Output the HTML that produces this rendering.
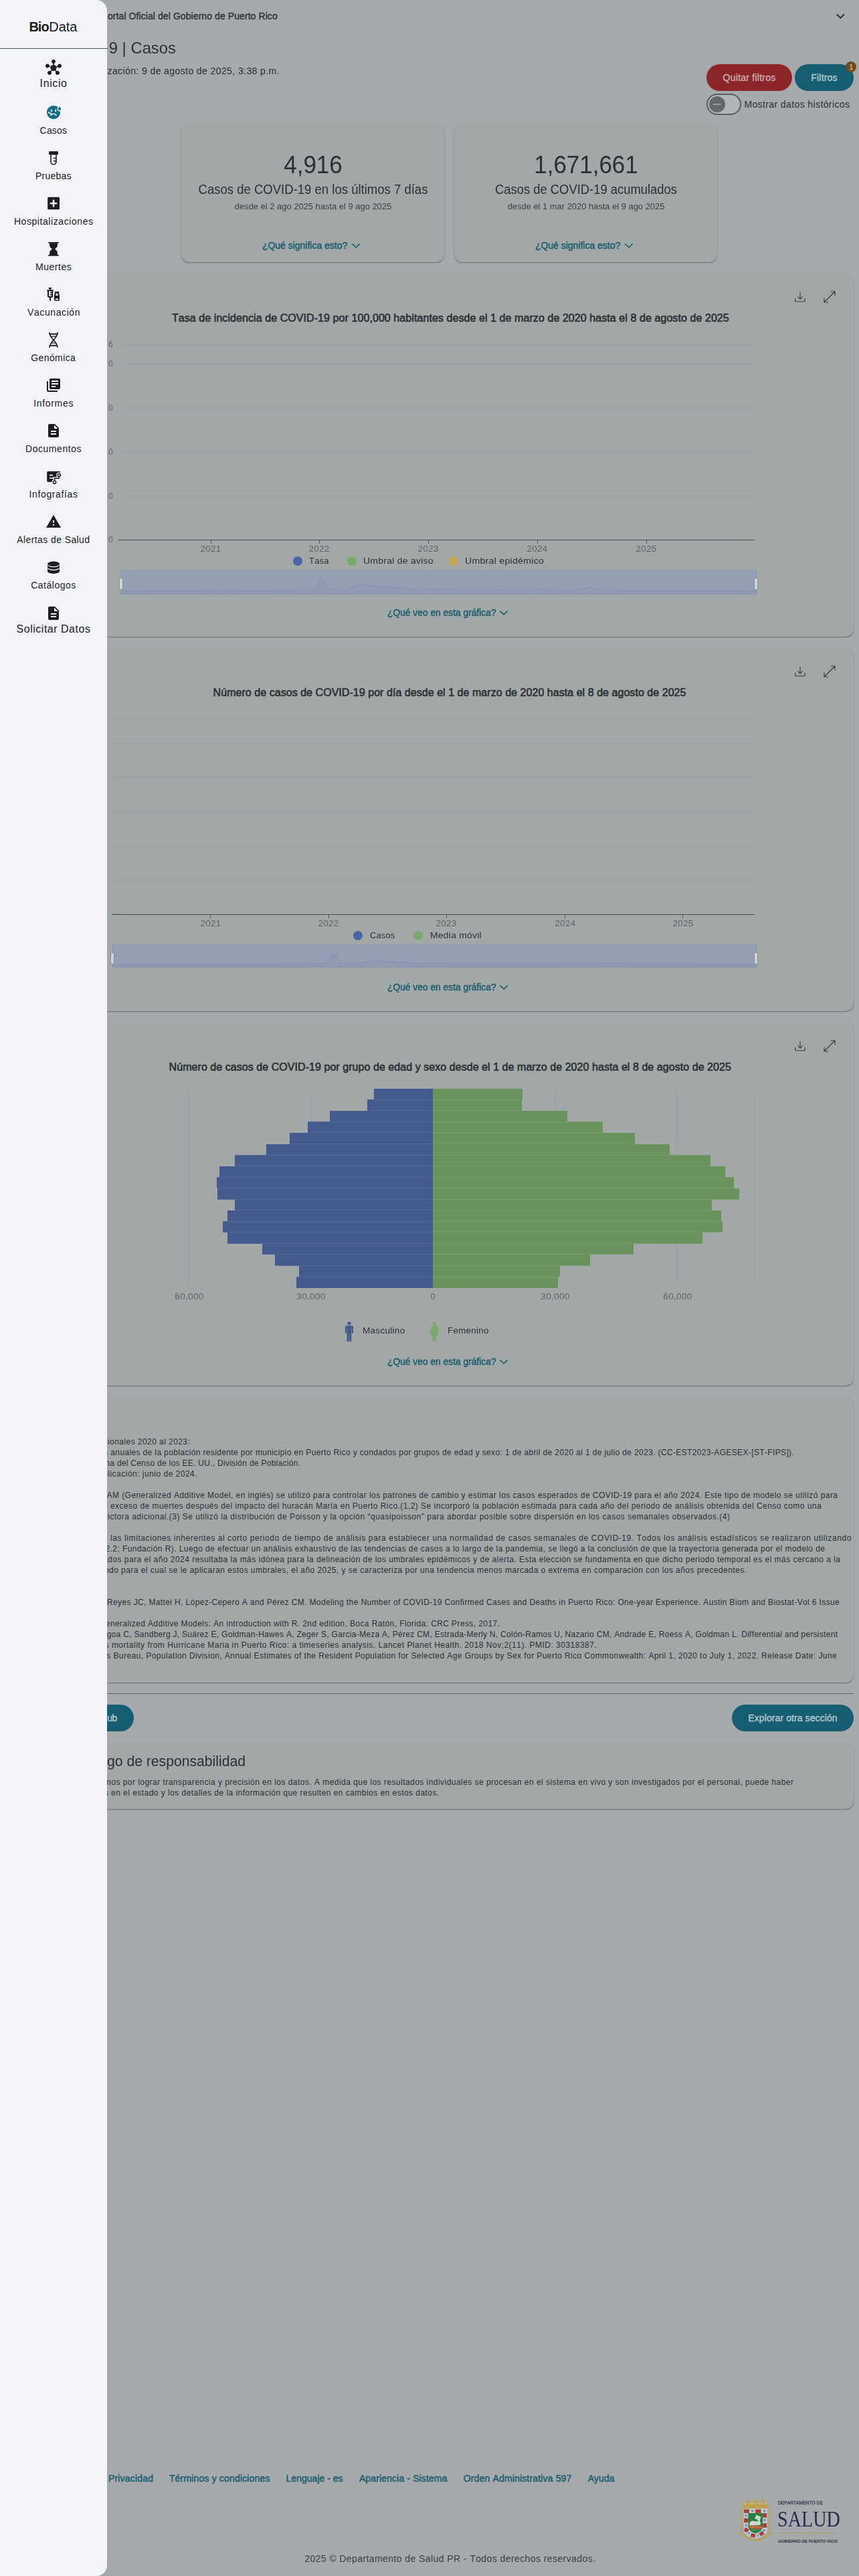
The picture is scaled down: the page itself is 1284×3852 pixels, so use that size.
<!DOCTYPE html>
<html lang="es"><head><meta charset="utf-8"><title>BioData - COVID-19 | Casos</title>
<style>
html,body{margin:0;padding:0}
body{width:1284px;height:3852px;position:relative;overflow:hidden;background:#a6aaad;font-family:"Liberation Sans",sans-serif;font-kerning:none;-webkit-font-smoothing:antialiased}
.t{position:absolute;white-space:nowrap;margin:0;padding:0}
.b{position:absolute;box-sizing:border-box}
svg{position:absolute;overflow:visible}
.card{box-shadow:0 1.5px 1.5px -0.5px rgba(0,0,0,.30),0 1px 3px 0 rgba(0,0,0,.07)}
</style></head><body>
<span class="t " style="top:14.85px;font-size:14px;line-height:18px;color:#2b3033;letter-spacing:0.078px;-webkit-text-stroke:0.35px #2b3033;right:869.22px;text-align:right;">ortal Oficial del Gobierno de Puerto Rico</span>
<span class="t " style="top:55.98px;font-size:24px;line-height:31px;color:#2b3033;letter-spacing:0.000px;right:1021.00px;text-align:right;transform:scaleX(0.9926);transform-origin:right center;">9 | Casos</span>
<span class="t " style="top:97.45px;font-size:14px;line-height:18px;color:#2b3033;letter-spacing:0.404px;right:866.10px;text-align:right;">zación: 9 de agosto de 2025, 3:38 p.m.</span>
<svg style="left:1248px;top:16px" width="16" height="16" viewBox="0 0 16 16"><path d="M2.6 5.2 L8.3 10.8 L14 5.2" fill="none" stroke="#2f3437" stroke-width="2"/></svg>
<div class="b" style="left:1056px;top:96px;width:127.5px;height:40px;background:#8b2529;border-radius:20px;"></div>
<span class="t " style="top:107.15px;font-size:14px;line-height:18px;color:#cfaeaf;letter-spacing:0.249px;-webkit-text-stroke:0.35px #cfaeaf;left:1080.60px;">Quitar filtros</span>
<div class="b" style="left:1188.3px;top:96px;width:87.5px;height:40px;background:#155d71;border-radius:20px;"></div>
<span class="t " style="top:107.15px;font-size:14px;line-height:18px;color:#b7cbd0;letter-spacing:0.198px;-webkit-text-stroke:0.35px #b7cbd0;left:1212.30px;">Filtros</span>
<div class="b" style="left:1264.2px;top:91.9px;width:16px;height:16px;background:#6d4b17;border-radius:8px;"></div>
<span class="t " style="top:92.79px;font-size:11px;line-height:14px;color:#c2b598;letter-spacing:0.000px;-webkit-text-stroke:0.35px #c2b598;left:272.30px;width:2000px;text-align:center;">1</span>
<div class="b" style="left:1056.2px;top:140.2px;width:51.6px;height:31.6px;background:#b0b5b8;border-radius:16px;border:2px solid #585e61;"></div>
<div class="b" style="left:1059.7px;top:144px;width:24px;height:24px;background:#62686b;border-radius:12px;"></div>
<div class="b" style="left:1066px;top:155.4px;width:11.4px;height:1.3px;background:#979da0;border-radius:0px;"></div>
<span class="t " style="top:146.75px;font-size:14px;line-height:18px;color:#2b3033;letter-spacing:0.391px;left:1112.40px;">Mostrar datos históricos</span>
<div class="b card" style="left:271.3px;top:184px;width:393px;height:208px;background:#a2a8a7;border-radius:12px"></div>
<span class="t " style="top:223.03px;font-size:36px;line-height:47px;color:#2b3033;letter-spacing:0.000px;left:-532.00px;width:2000px;text-align:center;transform:scaleX(0.9724);transform-origin:center center;">4,916</span>
<span class="t " style="top:269.67px;font-size:20px;line-height:26px;color:#2b3033;letter-spacing:0.000px;left:-532.00px;width:2000px;text-align:center;transform:scaleX(0.9261);transform-origin:center center;">Casos de COVID-19 en los últimos 7 días</span>
<span class="t " style="top:300.10px;font-size:13px;line-height:17px;color:#3a3f42;letter-spacing:0.000px;left:-532.00px;width:2000px;text-align:center;transform:scaleX(0.9947);transform-origin:center center;">desde el 2 ago 2025 hasta el 9 ago 2025</span>
<span class="t " style="top:357.95px;font-size:14px;line-height:18px;color:#1d5e6f;letter-spacing:-0.012px;-webkit-text-stroke:0.5px #1d5e6f;left:391.90px;">¿Qué significa esto?</span>
<svg style="left:525.2px;top:361.2px" width="14" height="12" viewBox="0 0 14 12"><path d="M1.4 3.6 L7 9 L12.6 3.6" fill="none" stroke="#1d5e6f" stroke-width="1.6"/></svg>
<div class="b card" style="left:679.4px;top:184px;width:393px;height:208px;background:#a2a8a7;border-radius:12px"></div>
<span class="t " style="top:223.03px;font-size:36px;line-height:47px;color:#2b3033;letter-spacing:0.000px;left:-124.00px;width:2000px;text-align:center;transform:scaleX(0.9709);transform-origin:center center;">1,671,661</span>
<span class="t " style="top:269.67px;font-size:20px;line-height:26px;color:#2b3033;letter-spacing:0.000px;left:-124.00px;width:2000px;text-align:center;transform:scaleX(0.9199);transform-origin:center center;">Casos de COVID-19 acumulados</span>
<span class="t " style="top:300.10px;font-size:13px;line-height:17px;color:#3a3f42;letter-spacing:0.000px;left:-124.00px;width:2000px;text-align:center;transform:scaleX(0.9930);transform-origin:center center;">desde el 1 mar 2020 hasta el 9 ago 2025</span>
<span class="t " style="top:357.95px;font-size:14px;line-height:18px;color:#1d5e6f;letter-spacing:-0.012px;-webkit-text-stroke:0.5px #1d5e6f;left:799.90px;">¿Qué significa esto?</span>
<svg style="left:933.2px;top:361.2px" width="14" height="12" viewBox="0 0 14 12"><path d="M1.4 3.6 L7 9 L12.6 3.6" fill="none" stroke="#1d5e6f" stroke-width="1.6"/></svg>
<div class="b card" style="left:68px;top:408px;width:1208px;height:544px;background:#a2a8a7;border-radius:12px"></div>
<svg style="left:1188px;top:435.5px" width="16" height="16" viewBox="0 0 16 16" fill="none" stroke="#363b3e" stroke-width="1.15" stroke-linecap="round" stroke-linejoin="round"><path d="M0.8 10.3v3.1c0 .9.7 1.6 1.6 1.6h11.2c.9 0 1.6-.7 1.6-1.6v-3.1"/><path d="M8 1.2v10M4.6 7.9 8 11.3l3.4-3.4"/></svg>
<svg style="left:1231px;top:434.5px" width="18" height="18" viewBox="0 0 18 18" fill="none" stroke="#363b3e" stroke-width="1.2" stroke-linecap="round" stroke-linejoin="round"><path d="M1 17 17 1M11.3 1H17v5.7M1 11.3V17h5.7"/></svg>
<span class="t " style="top:906.95px;font-size:14px;line-height:18px;color:#1d5e6f;letter-spacing:0.000px;-webkit-text-stroke:0.5px #1d5e6f;left:578.50px;transform:scaleX(0.9855);transform-origin:left center;">¿Qué veo en esta gráfica?</span>
<svg style="left:746.2px;top:909.6px" width="14" height="12" viewBox="0 0 14 12"><path d="M1.4 3.6 L7 9 L12.6 3.6" fill="none" stroke="#1d5e6f" stroke-width="1.6"/></svg>
<span class="t " style="top:465.46px;font-size:16px;line-height:21px;color:#2b3033;letter-spacing:0.076px;-webkit-text-stroke:0.6px #2b3033;left:256.90px;">Tasa de incidencia de COVID-19 por 100,000 habitantes desde el 1 de marzo de 2020 hasta el 8 de agosto de 2025</span>
<div class="b" style="left:180px;top:516.1px;width:947.6px;height:1px;background:#999fa2;border-radius:0px;"></div>
<div class="b" style="left:180px;top:543.7px;width:947.6px;height:1px;background:#999fa2;border-radius:0px;"></div>
<div class="b" style="left:180px;top:609.3px;width:947.6px;height:1px;background:#999fa2;border-radius:0px;"></div>
<div class="b" style="left:180px;top:675.6px;width:947.6px;height:1px;background:#999fa2;border-radius:0px;"></div>
<div class="b" style="left:180px;top:741.2px;width:947.6px;height:1px;background:#999fa2;border-radius:0px;"></div>
<div class="b" style="left:177.3px;top:806.7px;width:950.3px;height:1px;background:#4a4f52;border-radius:0px;"></div>
<span class="t " style="top:506.84px;font-size:12px;line-height:16px;color:#5d6265;letter-spacing:0.250px;right:1115.15px;text-align:right;transform:scaleX(1.0084);transform-origin:right center;">6</span>
<span class="t " style="top:536.44px;font-size:12px;line-height:16px;color:#5d6265;letter-spacing:0.250px;right:1115.15px;text-align:right;transform:scaleX(1.0084);transform-origin:right center;">0</span>
<span class="t " style="top:602.04px;font-size:12px;line-height:16px;color:#5d6265;letter-spacing:0.250px;right:1115.15px;text-align:right;transform:scaleX(1.0084);transform-origin:right center;">0</span>
<span class="t " style="top:668.34px;font-size:12px;line-height:16px;color:#5d6265;letter-spacing:0.250px;right:1115.15px;text-align:right;transform:scaleX(1.0084);transform-origin:right center;">0</span>
<span class="t " style="top:733.94px;font-size:12px;line-height:16px;color:#5d6265;letter-spacing:0.250px;right:1115.15px;text-align:right;transform:scaleX(1.0084);transform-origin:right center;">0</span>
<span class="t " style="top:799.44px;font-size:12px;line-height:16px;color:#5d6265;letter-spacing:0.250px;right:1115.15px;text-align:right;transform:scaleX(1.0084);transform-origin:right center;">0</span>
<div class="b" style="left:314.5px;top:807px;width:1px;height:5.5px;background:#4a4f52;border-radius:0px;"></div>
<span class="t " style="top:812.94px;font-size:12px;line-height:16px;color:#5d6265;letter-spacing:0.250px;left:-684.88px;width:2000px;text-align:center;transform:scaleX(1.1185);transform-origin:center center;">2021</span>
<div class="b" style="left:476.8px;top:807px;width:1px;height:5.5px;background:#4a4f52;border-radius:0px;"></div>
<span class="t " style="top:812.94px;font-size:12px;line-height:16px;color:#5d6265;letter-spacing:0.250px;left:-522.58px;width:2000px;text-align:center;transform:scaleX(1.1185);transform-origin:center center;">2022</span>
<div class="b" style="left:639.7px;top:807px;width:1px;height:5.5px;background:#4a4f52;border-radius:0px;"></div>
<span class="t " style="top:812.94px;font-size:12px;line-height:16px;color:#5d6265;letter-spacing:0.250px;left:-359.67px;width:2000px;text-align:center;transform:scaleX(1.1185);transform-origin:center center;">2023</span>
<div class="b" style="left:802.6px;top:807px;width:1px;height:5.5px;background:#4a4f52;border-radius:0px;"></div>
<span class="t " style="top:812.94px;font-size:12px;line-height:16px;color:#5d6265;letter-spacing:0.250px;left:-196.77px;width:2000px;text-align:center;transform:scaleX(1.1185);transform-origin:center center;">2024</span>
<div class="b" style="left:965.5px;top:807px;width:1px;height:5.5px;background:#4a4f52;border-radius:0px;"></div>
<span class="t " style="top:812.94px;font-size:12px;line-height:16px;color:#5d6265;letter-spacing:0.250px;left:-33.88px;width:2000px;text-align:center;transform:scaleX(1.1185);transform-origin:center center;">2025</span>
<div class="b" style="left:437.6px;top:831.5px;width:14px;height:14px;background:#4a64a4;border-radius:7px;"></div>
<span class="t " style="top:830.74px;font-size:12px;line-height:16px;color:#2b3033;letter-spacing:0.250px;left:462.30px;transform:scaleX(1.0767);transform-origin:left center;">Tasa</span>
<div class="b" style="left:518.7px;top:831.5px;width:14px;height:14px;background:#79a86b;border-radius:7px;"></div>
<span class="t " style="top:830.74px;font-size:12px;line-height:16px;color:#2b3033;letter-spacing:0.250px;left:543.40px;transform:scaleX(1.1596);transform-origin:left center;">Umbral de aviso</span>
<div class="b" style="left:671.2px;top:831.5px;width:14px;height:14px;background:#c9a55a;border-radius:7px;"></div>
<span class="t " style="top:830.74px;font-size:12px;line-height:16px;color:#2b3033;letter-spacing:0.250px;left:695.20px;transform:scaleX(1.1726);transform-origin:left center;">Umbral epidémico</span>
<div class="b" style="left:181px;top:852.3px;width:949.2px;height:36.30000000000007px;background:#959fb4;border-radius:0px;"></div>
<svg style="left:181px;top:852.3px" width="949.2" height="36.30000000000007" viewBox="0 0 949.2 36.30000000000007"><path d="M0 33.3 L0.0 31.7 L119.0 31.2 L149.0 30.7 L179.0 31.3 L259.0 30.9 L287.0 29.7 L293.0 21.7 L297.0 12.2 L302.0 17.7 L308.0 28.7 L319.0 30.7 L339.0 30.2 L353.0 22.7 L359.0 21.2 L371.0 23.7 L394.0 25.2 L419.0 27.7 L444.0 30.2 L469.0 28.7 L487.0 28.2 L509.0 30.2 L539.0 30.7 L579.0 30.5 L619.0 29.7 L631.0 28.5 L649.0 30.7 L679.0 30.9 L697.0 27.2 L703.0 26.3 L711.0 29.7 L749.0 31.2 L819.0 31.5 L879.0 31.2 L949.0 31.7 L949.2 33.3 L949.2 36 L0 36 Z" fill="#909ab1" stroke="#8390b3" stroke-width="0.9"/></svg>
<div class="b" style="left:180.5px;top:852.3px;width:1px;height:36.30000000000007px;background:#8390ae;border-radius:0px;"></div>
<div class="b" style="left:177.7px;top:863.8px;width:6.6px;height:18.5px;background:#cfd3d7;border-radius:2px;border:1px solid #8a9097;"></div>
<div class="b" style="left:1129.7px;top:852.3px;width:1px;height:36.30000000000007px;background:#8390ae;border-radius:0px;"></div>
<div class="b" style="left:1126.9px;top:863.8px;width:6.6px;height:18.5px;background:#cfd3d7;border-radius:2px;border:1px solid #8a9097;"></div>
<div class="b card" style="left:68px;top:968px;width:1208px;height:544px;background:#a2a8a7;border-radius:12px"></div>
<svg style="left:1188px;top:995.5px" width="16" height="16" viewBox="0 0 16 16" fill="none" stroke="#363b3e" stroke-width="1.15" stroke-linecap="round" stroke-linejoin="round"><path d="M0.8 10.3v3.1c0 .9.7 1.6 1.6 1.6h11.2c.9 0 1.6-.7 1.6-1.6v-3.1"/><path d="M8 1.2v10M4.6 7.9 8 11.3l3.4-3.4"/></svg>
<svg style="left:1231px;top:994.5px" width="18" height="18" viewBox="0 0 18 18" fill="none" stroke="#363b3e" stroke-width="1.2" stroke-linecap="round" stroke-linejoin="round"><path d="M1 17 17 1M11.3 1H17v5.7M1 11.3V17h5.7"/></svg>
<span class="t " style="top:1466.95px;font-size:14px;line-height:18px;color:#1d5e6f;letter-spacing:0.000px;-webkit-text-stroke:0.5px #1d5e6f;left:578.50px;transform:scaleX(0.9855);transform-origin:left center;">¿Qué veo en esta gráfica?</span>
<svg style="left:746.2px;top:1469.6px" width="14" height="12" viewBox="0 0 14 12"><path d="M1.4 3.6 L7 9 L12.6 3.6" fill="none" stroke="#1d5e6f" stroke-width="1.6"/></svg>
<span class="t " style="top:1025.46px;font-size:16px;line-height:21px;color:#2b3033;letter-spacing:0.046px;-webkit-text-stroke:0.6px #2b3033;left:318.60px;">Número de casos de COVID-19 por día desde el 1 de marzo de 2020 hasta el 8 de agosto de 2025</span>
<div class="b" style="left:169.3px;top:1075.4px;width:958.5px;height:1px;background:#999fa2;border-radius:0px;"></div>
<div class="b" style="left:169.3px;top:1110.7px;width:958.5px;height:1px;background:#999fa2;border-radius:0px;"></div>
<div class="b" style="left:169.3px;top:1162.4px;width:958.5px;height:1px;background:#999fa2;border-radius:0px;"></div>
<div class="b" style="left:169.3px;top:1213.7px;width:958.5px;height:1px;background:#999fa2;border-radius:0px;"></div>
<div class="b" style="left:169.3px;top:1265.1px;width:958.5px;height:1px;background:#999fa2;border-radius:0px;"></div>
<div class="b" style="left:169.3px;top:1316.3px;width:958.5px;height:1px;background:#999fa2;border-radius:0px;"></div>
<div class="b" style="left:166.5px;top:1366.6px;width:961.3px;height:1px;background:#4a4f52;border-radius:0px;"></div>
<div class="b" style="left:166.5px;top:1366px;width:11px;height:1.4px;background:#79a86b;border-radius:0px;"></div>
<div class="b" style="left:314.1px;top:1367px;width:1px;height:5.5px;background:#4a4f52;border-radius:0px;"></div>
<span class="t " style="top:1372.84px;font-size:12px;line-height:16px;color:#5d6265;letter-spacing:0.250px;left:-685.27px;width:2000px;text-align:center;transform:scaleX(1.1185);transform-origin:center center;">2021</span>
<div class="b" style="left:490.6px;top:1367px;width:1px;height:5.5px;background:#4a4f52;border-radius:0px;"></div>
<span class="t " style="top:1372.84px;font-size:12px;line-height:16px;color:#5d6265;letter-spacing:0.250px;left:-508.77px;width:2000px;text-align:center;transform:scaleX(1.1185);transform-origin:center center;">2022</span>
<div class="b" style="left:666.7px;top:1367px;width:1px;height:5.5px;background:#4a4f52;border-radius:0px;"></div>
<span class="t " style="top:1372.84px;font-size:12px;line-height:16px;color:#5d6265;letter-spacing:0.250px;left:-332.67px;width:2000px;text-align:center;transform:scaleX(1.1185);transform-origin:center center;">2023</span>
<div class="b" style="left:843.9px;top:1367px;width:1px;height:5.5px;background:#4a4f52;border-radius:0px;"></div>
<span class="t " style="top:1372.84px;font-size:12px;line-height:16px;color:#5d6265;letter-spacing:0.250px;left:-155.48px;width:2000px;text-align:center;transform:scaleX(1.1185);transform-origin:center center;">2024</span>
<div class="b" style="left:1020.4px;top:1367px;width:1px;height:5.5px;background:#4a4f52;border-radius:0px;"></div>
<span class="t " style="top:1372.84px;font-size:12px;line-height:16px;color:#5d6265;letter-spacing:0.250px;left:21.02px;width:2000px;text-align:center;transform:scaleX(1.1185);transform-origin:center center;">2025</span>
<div class="b" style="left:527.8px;top:1391.8px;width:14px;height:14px;background:#4a64a4;border-radius:7px;"></div>
<span class="t " style="top:1391.04px;font-size:12px;line-height:16px;color:#2b3033;letter-spacing:0.250px;left:553.00px;transform:scaleX(1.0624);transform-origin:left center;">Casos</span>
<div class="b" style="left:618px;top:1391.8px;width:14px;height:14px;background:#79a86b;border-radius:7px;"></div>
<span class="t " style="top:1391.04px;font-size:12px;line-height:16px;color:#2b3033;letter-spacing:0.250px;left:643.30px;transform:scaleX(1.1530);transform-origin:left center;">Media móvil</span>
<div class="b" style="left:168px;top:1412.3px;width:962.2px;height:34.5px;background:#959fb4;border-radius:0px;"></div>
<svg style="left:168px;top:1412.3px" width="962.2" height="34.5" viewBox="0 0 962.2 34.5"><path d="M0 31.5 L0.0 30.7 L132.0 30.3 L232.0 30.1 L272.0 29.7 L318.0 28.7 L324.0 21.7 L327.0 13.7 L329.0 20.7 L331.0 11.7 L333.0 19.7 L335.0 12.7 L338.0 23.7 L344.0 28.7 L362.0 29.7 L380.0 26.7 L385.0 23.7 L388.0 26.7 L391.0 23.2 L394.0 26.7 L398.0 23.7 L402.0 27.2 L408.0 24.7 L414.0 27.7 L422.0 25.7 L430.0 28.2 L438.0 26.7 L447.0 28.7 L457.0 27.7 L472.0 29.2 L487.0 28.2 L502.0 29.5 L532.0 29.7 L592.0 29.7 L672.0 29.3 L737.0 29.2 L750.0 27.2 L756.0 29.2 L822.0 29.7 L963.0 30.2 L962.2 31.5 L962.2 34 L0 34 Z" fill="#909ab1" stroke="#8390b3" stroke-width="0.9"/></svg>
<div class="b" style="left:167.5px;top:1412.3px;width:1px;height:34.5px;background:#8390ae;border-radius:0px;"></div>
<div class="b" style="left:164.7px;top:1423.8px;width:6.6px;height:18.5px;background:#cfd3d7;border-radius:2px;border:1px solid #8a9097;"></div>
<div class="b" style="left:1129.7px;top:1412.3px;width:1px;height:34.5px;background:#8390ae;border-radius:0px;"></div>
<div class="b" style="left:1126.9px;top:1423.8px;width:6.6px;height:18.5px;background:#cfd3d7;border-radius:2px;border:1px solid #8a9097;"></div>
<div class="b card" style="left:68px;top:1528px;width:1208px;height:544px;background:#a2a8a7;border-radius:12px"></div>
<svg style="left:1188px;top:1555.5px" width="16" height="16" viewBox="0 0 16 16" fill="none" stroke="#363b3e" stroke-width="1.15" stroke-linecap="round" stroke-linejoin="round"><path d="M0.8 10.3v3.1c0 .9.7 1.6 1.6 1.6h11.2c.9 0 1.6-.7 1.6-1.6v-3.1"/><path d="M8 1.2v10M4.6 7.9 8 11.3l3.4-3.4"/></svg>
<svg style="left:1231px;top:1554.5px" width="18" height="18" viewBox="0 0 18 18" fill="none" stroke="#363b3e" stroke-width="1.2" stroke-linecap="round" stroke-linejoin="round"><path d="M1 17 17 1M11.3 1H17v5.7M1 11.3V17h5.7"/></svg>
<span class="t " style="top:2026.95px;font-size:14px;line-height:18px;color:#1d5e6f;letter-spacing:0.000px;-webkit-text-stroke:0.5px #1d5e6f;left:578.50px;transform:scaleX(0.9855);transform-origin:left center;">¿Qué veo en esta gráfica?</span>
<svg style="left:746.2px;top:2029.6px" width="14" height="12" viewBox="0 0 14 12"><path d="M1.4 3.6 L7 9 L12.6 3.6" fill="none" stroke="#1d5e6f" stroke-width="1.6"/></svg>
<span class="t " style="top:1585.46px;font-size:16px;line-height:21px;color:#2b3033;letter-spacing:0.055px;-webkit-text-stroke:0.6px #2b3033;left:252.60px;">Número de casos de COVID-19 por grupo de edad y sexo desde el 1 de marzo de 2020 hasta el 8 de agosto de 2025</span>
<svg style="left:0;top:0" width="1284" height="2100" viewBox="0 0 1284 2100" shape-rendering="crispEdges"><rect x="282.3" y="1627.8" width="1" height="297.79999999999995" fill="#999fa2"/><rect x="464.5" y="1627.8" width="1" height="297.79999999999995" fill="#999fa2"/><rect x="829.1" y="1627.8" width="1" height="297.79999999999995" fill="#999fa2"/><rect x="1012.3" y="1627.8" width="1" height="297.79999999999995" fill="#999fa2"/><rect x="1126.5" y="1627.8" width="1" height="297.79999999999995" fill="#999fa2"/><rect x="559.2" y="1627.80" width="87.8" height="16.84" fill="#445a8f"/><rect x="647" y="1627.80" width="134.4" height="16.84" fill="#69925c"/><rect x="548.5" y="1644.34" width="98.5" height="16.84" fill="#445a8f"/><rect x="647" y="1644.34" width="132.8" height="16.84" fill="#69925c"/><rect x="492.8" y="1660.89" width="154.2" height="16.84" fill="#445a8f"/><rect x="647" y="1660.89" width="201.4" height="16.84" fill="#69925c"/><rect x="459.6" y="1677.43" width="187.4" height="16.84" fill="#445a8f"/><rect x="647" y="1677.43" width="253.8" height="16.84" fill="#69925c"/><rect x="432.8" y="1693.98" width="214.2" height="16.84" fill="#445a8f"/><rect x="647" y="1693.98" width="302.0" height="16.84" fill="#69925c"/><rect x="397.5" y="1710.52" width="249.5" height="16.84" fill="#445a8f"/><rect x="647" y="1710.52" width="354.0" height="16.84" fill="#69925c"/><rect x="350.9" y="1727.07" width="296.1" height="16.84" fill="#445a8f"/><rect x="647" y="1727.07" width="414.5" height="16.84" fill="#69925c"/><rect x="328.4" y="1743.61" width="318.6" height="16.84" fill="#445a8f"/><rect x="647" y="1743.61" width="437.0" height="16.84" fill="#69925c"/><rect x="323.6" y="1760.16" width="323.4" height="16.84" fill="#445a8f"/><rect x="647" y="1760.16" width="449.9" height="16.84" fill="#69925c"/><rect x="325.2" y="1776.70" width="321.8" height="16.84" fill="#445a8f"/><rect x="647" y="1776.70" width="457.7" height="16.84" fill="#69925c"/><rect x="350.9" y="1793.24" width="296.1" height="16.84" fill="#445a8f"/><rect x="647" y="1793.24" width="416.7" height="16.84" fill="#69925c"/><rect x="340.2" y="1809.79" width="306.8" height="16.84" fill="#445a8f"/><rect x="647" y="1809.79" width="430.6" height="16.84" fill="#69925c"/><rect x="333.2" y="1826.33" width="313.8" height="16.84" fill="#445a8f"/><rect x="647" y="1826.33" width="432.7" height="16.84" fill="#69925c"/><rect x="339.6" y="1842.88" width="307.4" height="16.84" fill="#445a8f"/><rect x="647" y="1842.88" width="403.3" height="16.84" fill="#69925c"/><rect x="391.6" y="1859.42" width="255.4" height="16.84" fill="#445a8f"/><rect x="647" y="1859.42" width="299.9" height="16.84" fill="#69925c"/><rect x="411.4" y="1875.97" width="235.6" height="16.84" fill="#445a8f"/><rect x="647" y="1875.97" width="235.1" height="16.84" fill="#69925c"/><rect x="446.7" y="1892.51" width="200.3" height="16.84" fill="#445a8f"/><rect x="647" y="1892.51" width="189.6" height="16.84" fill="#69925c"/><rect x="442.5" y="1909.06" width="204.5" height="16.84" fill="#445a8f"/><rect x="647" y="1909.06" width="186.9" height="16.84" fill="#69925c"/><rect x="548.5" y="1644" width="232.9" height="1" fill="#d0d6da" opacity="0.12"/><rect x="492.8" y="1660" width="355.6" height="1" fill="#d0d6da" opacity="0.12"/><rect x="459.6" y="1677" width="441.2" height="1" fill="#d0d6da" opacity="0.12"/><rect x="432.8" y="1693" width="516.2" height="1" fill="#d0d6da" opacity="0.12"/><rect x="397.5" y="1710" width="603.5" height="1" fill="#d0d6da" opacity="0.12"/><rect x="350.9" y="1727" width="710.6" height="1" fill="#d0d6da" opacity="0.12"/><rect x="328.4" y="1743" width="755.6" height="1" fill="#d0d6da" opacity="0.12"/><rect x="323.6" y="1760" width="773.3" height="1" fill="#d0d6da" opacity="0.12"/><rect x="323.6" y="1776" width="781.1" height="1" fill="#d0d6da" opacity="0.12"/><rect x="325.2" y="1793" width="779.5" height="1" fill="#d0d6da" opacity="0.12"/><rect x="340.2" y="1809" width="737.4" height="1" fill="#d0d6da" opacity="0.12"/><rect x="333.2" y="1826" width="746.5" height="1" fill="#d0d6da" opacity="0.12"/><rect x="333.2" y="1842" width="746.5" height="1" fill="#d0d6da" opacity="0.12"/><rect x="339.6" y="1859" width="710.7" height="1" fill="#d0d6da" opacity="0.12"/><rect x="391.6" y="1875" width="555.3" height="1" fill="#d0d6da" opacity="0.12"/><rect x="411.4" y="1892" width="470.7" height="1" fill="#d0d6da" opacity="0.12"/><rect x="442.5" y="1909" width="394.1" height="1" fill="#d0d6da" opacity="0.12"/></svg>
<span class="t " style="top:1930.84px;font-size:12px;line-height:16px;color:#5d6265;letter-spacing:0.250px;left:-717.08px;width:2000px;text-align:center;transform:scaleX(1.1329);transform-origin:center center;">60,000</span>
<span class="t " style="top:1930.84px;font-size:12px;line-height:16px;color:#5d6265;letter-spacing:0.250px;left:-534.88px;width:2000px;text-align:center;transform:scaleX(1.1329);transform-origin:center center;">30,000</span>
<span class="t " style="top:1930.84px;font-size:12px;line-height:16px;color:#5d6265;letter-spacing:0.250px;left:-352.88px;width:2000px;text-align:center;transform:scaleX(1.0084);transform-origin:center center;">0</span>
<span class="t " style="top:1930.84px;font-size:12px;line-height:16px;color:#5d6265;letter-spacing:0.250px;left:-170.27px;width:2000px;text-align:center;transform:scaleX(1.1329);transform-origin:center center;">30,000</span>
<span class="t " style="top:1930.84px;font-size:12px;line-height:16px;color:#5d6265;letter-spacing:0.250px;left:12.92px;width:2000px;text-align:center;transform:scaleX(1.1329);transform-origin:center center;">60,000</span>
<svg style="left:516px;top:1975.7px" width="12" height="30.3" viewBox="0 0 12 30"><circle cx="6" cy="2.6" r="2.6" fill="#445a8f"/><path d="M2.2 6h7.6c1.2 0 2.2 1 2.2 2.2v8.300c0 .6-.5 1.100-1.100 1.100s-1.100-.5-1.100-1.100V9.300H9.300V28.400c0 .9-.7 1.600-1.600 1.600S6.200 29.300 6.200 28.400V18H5.800v10.400c0 .9-.7 1.600-1.600 1.600s-1.600-.7-1.600-1.600V9.300H2.200v7.200c0 .6-.5 1.100-1.100 1.100S0 17.100 0 16.500V8.200C0 7 1 6 2.200 6z" fill="#445a8f"/></svg>
<span class="t " style="top:1981.94px;font-size:12px;line-height:16px;color:#2b3033;letter-spacing:0.250px;left:542.40px;transform:scaleX(1.1281);transform-origin:left center;">Masculino</span>
<svg style="left:642.3px;top:1975.7px" width="14.5" height="30.3" viewBox="0 0 14.5 30"><circle cx="7.25" cy="2.6" r="2.6" fill="#79a86b"/><path d="M4.600 6h5.300c1 0 1.800.6 2.100 1.600l2.400 8c.2.600-.1 1.200-.7 1.400-.6.200-1.200-.1-1.400-.7L10.200 9.500H9.800l3 11.500H10v7.500c0 .8-.6 1.500-1.400 1.500s-1.400-.7-1.400-1.500V21h-.4v7.500c0 .8-.6 1.500-1.400 1.500S4.500 29.300 4.500 28.500V21H1.700l3-11.500H4.300L2.200 16.300c-.2.600-.8.900-1.400.7-.6-.2-.9-.8-.7-1.400l2.400-8C2.800 6.600 3.600 6 4.600 6z" fill="#79a86b"/></svg>
<span class="t " style="top:1981.94px;font-size:12px;line-height:16px;color:#2b3033;letter-spacing:0.250px;left:669.20px;transform:scaleX(1.1141);transform-origin:left center;">Femenino</span>
<div class="b card" style="left:68px;top:2088px;width:1208px;height:428px;background:#a2a8a7;border-radius:12px"></div>
<span class="t " style="top:2148.14px;font-size:12px;line-height:16px;color:#2b3033;letter-spacing:0.435px;right:999.76px;text-align:right;">Estimados poblacionales 2020 al 2023:</span>
<span class="t " style="top:2164.14px;font-size:12px;line-height:16px;color:#2b3033;letter-spacing:0.362px;right:96.84px;text-align:right;">Estimados anuales de la población residente por municipio en Puerto Rico y condados por grupos de edad y sexo: 1 de abril de 2020 al 1 de julio de 2023. (CC-EST2023-AGESEX-[ST-FIPS]).</span>
<span class="t " style="top:2180.14px;font-size:12px;line-height:16px;color:#2b3033;letter-spacing:0.283px;right:834.72px;text-align:right;">Fuente: Oficina del Censo de los EE. UU., División de Población.</span>
<span class="t " style="top:2196.14px;font-size:12px;line-height:16px;color:#2b3033;letter-spacing:0.487px;right:988.91px;text-align:right;">Fecha de publicación: junio de 2024.</span>
<span class="t " style="top:2228.14px;font-size:12px;line-height:16px;color:#2b3033;letter-spacing:0.448px;right:31.55px;text-align:right;">El modelo GAM (Generalized Additive Model, en inglés) se utilizó para controlar los patrones de cambio y estimar los casos esperados de COVID-19 para el año 2024. Este tipo de modelo se utilizó para</span>
<span class="t " style="top:2244.14px;font-size:12px;line-height:16px;color:#2b3033;letter-spacing:0.459px;right:55.94px;text-align:right;">estimar el exceso de muertes después del impacto del huracán María en Puerto Rico.(1,2) Se incorporó la población estimada para cada año del periodo de análisis obtenida del Censo como una</span>
<span class="t " style="top:2260.14px;font-size:12px;line-height:16px;color:#2b3033;letter-spacing:0.492px;right:192.61px;text-align:right;">variable predictora adicional.(3) Se utilizó la distribución de Poisson y la opción “quasipoisson” para abordar posible sobre dispersión en los casos semanales observados.(4)</span>
<span class="t " style="top:2292.14px;font-size:12px;line-height:16px;color:#2b3033;letter-spacing:0.592px;right:11.01px;text-align:right;">Se reconocen las limitaciones inherentes al corto periodo de tiempo de análisis para establecer una normalidad de casos semanales de COVID-19. Todos los análisis estadísticos se realizaron utilizando</span>
<span class="t " style="top:2308.14px;font-size:12px;line-height:16px;color:#2b3033;letter-spacing:0.434px;right:50.57px;text-align:right;">R (versión 4.2.2; Fundación R). Luego de efectuar un análisis exhaustivo de las tendencias de casos a lo largo de la pandemia, se llegó a la conclusión de que la trayectoria generada por el modelo de</span>
<span class="t " style="top:2324.14px;font-size:12px;line-height:16px;color:#2b3033;letter-spacing:0.468px;right:27.53px;text-align:right;">casos esperados para el año 2024 resultaba la más idónea para la delineación de los umbrales epidémicos y de alerta. Esta elección se fundamenta en que dicho periodo temporal es el más cercano a la</span>
<span class="t " style="top:2340.14px;font-size:12px;line-height:16px;color:#2b3033;letter-spacing:0.447px;right:167.55px;text-align:right;">del periodo para el cual se le aplicaran estos umbrales, el año 2025, y se caracteriza por una tendencia menos marcada o extrema en comparación con los años precedentes.</span>
<span class="t " style="top:2388.14px;font-size:12px;line-height:16px;color:#2b3033;letter-spacing:0.374px;right:28.83px;text-align:right;">1. Marazzi M, Reyes JC, Mattei H, López-Cepero A and Pérez CM. Modeling the Number of COVID-19 Confirmed Cases and Deaths in Puerto Rico: One-year Experience. Austin Biom and Biostat-Vol 6 Issue</span>
<span class="t " style="top:2420.14px;font-size:12px;line-height:16px;color:#2b3033;letter-spacing:0.404px;right:536.70px;text-align:right;">2. Wood SN. Generalized Additive Models: An introduction with R. 2nd edition. Boca Ratón, Florida: CRC Press, 2017.</span>
<span class="t " style="top:2436.14px;font-size:12px;line-height:16px;color:#2b3033;letter-spacing:0.298px;right:31.70px;text-align:right;">3. Santos-Burgoa C, Sandberg J, Suárez E, Goldman-Hawes A, Zeger S, Garcia-Meza A, Pérez CM, Estrada-Merly N, Colón-Ramos U, Nazario CM, Andrade E, Roess A, Goldman L. Differential and persistent</span>
<span class="t " style="top:2452.14px;font-size:12px;line-height:16px;color:#2b3033;letter-spacing:0.485px;right:391.82px;text-align:right;">risk of excess mortality from Hurricane Maria in Puerto Rico: a timeseries analysis. Lancet Planet Health. 2018 Nov;2(11). PMID: 30318387.</span>
<span class="t " style="top:2468.14px;font-size:12px;line-height:16px;color:#2b3033;letter-spacing:0.425px;right:32.88px;text-align:right;">4. U.S. Census Bureau, Population Division, Annual Estimates of the Resident Population for Selected Age Groups by Sex for Puerto Rico Commonwealth: April 1, 2020 to July 1, 2022. Release Date: June</span>
<div class="b" style="left:68px;top:2531.6px;width:1208px;height:1px;background:#5b6164;border-radius:0px;"></div>
<div class="b" style="left:68px;top:2549px;width:132px;height:40px;background:#155d71;border-radius:20px;"></div>
<span class="t " style="top:2560.15px;font-size:14px;line-height:18px;color:#b7cbd0;letter-spacing:-0.300px;-webkit-text-stroke:0.35px #b7cbd0;right:1108.90px;text-align:right;">Ver en GitHub</span>
<div class="b" style="left:1094.3px;top:2549px;width:181.6px;height:40px;background:#155d71;border-radius:20px;"></div>
<span class="t " style="top:2560.15px;font-size:14px;line-height:18px;color:#b7cbd0;letter-spacing:0.090px;-webkit-text-stroke:0.35px #b7cbd0;left:1118.30px;">Explorar otra sección</span>
<div class="b card" style="left:68px;top:2605px;width:1208px;height:100px;background:#a2a8a7;border-radius:12px"></div>
<span class="t " style="top:2619.18px;font-size:22px;line-height:29px;color:#2b3033;letter-spacing:0.000px;right:916.70px;text-align:right;transform:scaleX(0.9615);transform-origin:right center;">Descargo de responsabilidad</span>
<span class="t " style="top:2657.04px;font-size:12px;line-height:16px;color:#2b3033;letter-spacing:0.460px;right:97.54px;text-align:right;">Nos esforzamos por lograr transparencia y precisión en los datos. A medida que los resultados individuales se procesan en el sistema en vivo y son investigados por el personal, puede haber</span>
<span class="t d2" style="top:2672.74px;font-size:12px;line-height:16px;color:#2b3033;letter-spacing:0.460px;right:627.24px;text-align:right;">cambios en el estado y los detalles de la información que resulten en cambios en estos datos.</span>
<span class="t " style="top:3696.75px;font-size:14px;line-height:18px;color:#1d5e6f;letter-spacing:0.204px;-webkit-text-stroke:0.5px #1d5e6f;left:161.90px;">Privacidad</span>
<span class="t " style="top:3696.75px;font-size:14px;line-height:18px;color:#1d5e6f;letter-spacing:0.168px;-webkit-text-stroke:0.5px #1d5e6f;left:252.90px;">Términos y condiciones</span>
<span class="t " style="top:3696.75px;font-size:14px;line-height:18px;color:#1d5e6f;letter-spacing:0.013px;-webkit-text-stroke:0.5px #1d5e6f;left:427.60px;">Lenguaje - es</span>
<span class="t " style="top:3696.75px;font-size:14px;line-height:18px;color:#1d5e6f;letter-spacing:0.128px;-webkit-text-stroke:0.5px #1d5e6f;left:536.90px;">Apariencia - Sistema</span>
<span class="t " style="top:3696.75px;font-size:14px;line-height:18px;color:#1d5e6f;letter-spacing:0.161px;-webkit-text-stroke:0.5px #1d5e6f;left:692.70px;">Orden Administrativa 597</span>
<span class="t " style="top:3696.75px;font-size:14px;line-height:18px;color:#1d5e6f;letter-spacing:0.039px;-webkit-text-stroke:0.5px #1d5e6f;left:878.70px;">Ayuda</span>
<span class="t " style="top:3816.75px;font-size:14px;line-height:18px;color:#3a3f42;letter-spacing:0.415px;left:455.20px;">2025 © Departamento de Salud PR - Todos derechos reservados.</span>
<svg style="left:1095px;top:3725px;filter:blur(0.35px)" width="70" height="85" viewBox="0 0 859 1043"><path d="M115 765C200 775 255 895 420 902C585 895 640 775 725 765" fill="none" stroke="#bea04c" stroke-width="30" stroke-linecap="round"/><path d="M120 335h75M158 335v160M130 400c40 30 40 60 10 95c40 40 50 120 10 230M645 335h75M684 335v160M712 400c-40 30-40 60-10 95c-40 40-50 120-10 230" fill="none" stroke="#bea04c" stroke-width="20" opacity=".8"/><path d="M140 600c30 40 40 100 20 140M700 600c-30 40-40 100-20 140" fill="none" stroke="#c08a80" stroke-width="22" opacity=".7"/><path d="M210 318L150 190L218 262L280 135L345 255L420 128L495 255L560 135L622 262L690 190L630 318Z" fill="#bea04c"/><circle cx="235" cy="232" r="13" fill="#d8c79a"/><circle cx="300" cy="232" r="13" fill="#d8c79a"/><circle cx="360" cy="232" r="13" fill="#d8c79a"/><circle cx="420" cy="232" r="13" fill="#d8c79a"/><circle cx="480" cy="232" r="13" fill="#d8c79a"/><circle cx="540" cy="232" r="13" fill="#d8c79a"/><circle cx="605" cy="232" r="13" fill="#d8c79a"/><path d="M205 322H635V690C635 800 520 858 420 866C320 858 205 800 205 690Z" fill="#c3c8cc"/><rect x="210" y="335" width="95" height="68" fill="#a63f35"/><rect x="420" y="335" width="100" height="68" fill="#a63f35"/><rect x="555" y="405" width="72" height="82" fill="#a63f35"/><rect x="555" y="590" width="72" height="82" fill="#a63f35"/><rect x="210" y="500" width="76" height="78" fill="#a63f35"/><rect x="215" y="680" width="75" height="70" fill="#a63f35" transform="rotate(30 252 715)"/><rect x="335" y="780" width="80" height="68" fill="#a63f35" transform="rotate(12 375 814)"/><rect x="495" y="745" width="78" height="68" fill="#a63f35" transform="rotate(-32 534 779)"/><path d="M348 348L382 382M382 348L348 382" stroke="#3f569c" stroke-width="13" opacity=".75"/><path d="M568 348L602 382M602 348L568 382" stroke="#3f569c" stroke-width="13" opacity=".75"/><path d="M228 430L262 464M262 430L228 464" stroke="#3f569c" stroke-width="13" opacity=".75"/><path d="M573 515L607 549M607 515L573 549" stroke="#3f569c" stroke-width="13" opacity=".75"/><path d="M230 608L264 642M264 608L230 642" stroke="#3f569c" stroke-width="13" opacity=".75"/><path d="M448 795L482 829M482 795L448 829" stroke="#3f569c" stroke-width="13" opacity=".75"/><path d="M563 703L597 737M597 703L563 737" stroke="#3f569c" stroke-width="13" opacity=".75"/><path d="M283 758L317 792M317 758L283 792" stroke="#3f569c" stroke-width="13" opacity=".75"/><path d="M287 405H553V640C553 720 480 764 420 773C360 764 287 720 287 640Z" fill="#27803f"/><path d="M310 600C318 560 350 540 385 548C410 556 440 560 470 556L455 520L405 505L435 440L520 468L498 545C522 565 524 600 500 622L330 636C312 628 306 615 310 600Z" fill="#cddad1"/><path d="M303 645Q420 615 547 640L532 690Q420 705 318 690Z" fill="#b8553d"/><path d="M320 668Q420 650 535 662" fill="none" stroke="#bea04c" stroke-width="12"/><path d="M350 712l140 -2" stroke="#9fc2a8" stroke-width="12" stroke-dasharray="14 16"/></svg>
<span class="t " style="top:3738.21px;font-size:6.9px;line-height:9px;color:#3f4354;letter-spacing:0.000px;-webkit-text-stroke:0.35px #3f4354;left:1162.90px;transform:scaleX(0.9699);transform-origin:left center;">DEPARTAMENTO DE</span>
<span class="t " style="top:3743.56px;font-size:34.5px;line-height:45px;color:#262b4d;letter-spacing:0.000px;font-family:'Liberation Serif',serif;left:1162.40px;transform:scaleX(0.8156);transform-origin:left center;">SALUD</span>
<div class="b" style="left:1162.9px;top:3786.6px;width:88.1px;height:1.8px;background:#ac9a66;border-radius:0px;"></div>
<span class="t " style="top:3796.15px;font-size:6.2px;line-height:8px;color:#3f4354;letter-spacing:0.036px;-webkit-text-stroke:0.35px #3f4354;left:1162.90px;">GOBIERNO DE PUERTO RICO</span>
<div class="b" style="left:0;top:0;width:160px;height:3852px;background:#f2f4f7;border-radius:0 16px 16px 0"></div>
<div class="b" style="left:0px;top:72px;width:161px;height:1px;background:#4e5356;border-radius:0px;"></div>
<span class="t " style="top:26.67px;font-size:20px;line-height:26px;color:#1b1d1f;letter-spacing:-1.000px;font-weight:700;left:43.40px;">Bio</span>
<span class="t " style="top:26.67px;font-size:20px;line-height:26px;color:#1b1d1f;letter-spacing:0.018px;left:73.20px;">Data</span>
<span class="t " style="top:113.96px;font-size:16px;line-height:21px;color:#1b1d1f;letter-spacing:0.609px;left:59.60px;">Inicio</span>
<span class="t " style="top:186.35px;font-size:14px;line-height:18px;color:#1b1d1f;letter-spacing:0.179px;left:59.60px;">Casos</span>
<span class="t " style="top:254.15px;font-size:14px;line-height:18px;color:#1b1d1f;letter-spacing:0.226px;left:53.00px;">Pruebas</span>
<span class="t " style="top:322.15px;font-size:14px;line-height:18px;color:#1b1d1f;letter-spacing:0.572px;left:20.90px;">Hospitalizaciones</span>
<span class="t " style="top:390.15px;font-size:14px;line-height:18px;color:#1b1d1f;letter-spacing:0.521px;left:53.00px;">Muertes</span>
<span class="t " style="top:458.15px;font-size:14px;line-height:18px;color:#1b1d1f;letter-spacing:0.597px;left:41.00px;">Vacunación</span>
<span class="t " style="top:526.15px;font-size:14px;line-height:18px;color:#1b1d1f;letter-spacing:0.413px;left:46.20px;">Genómica</span>
<span class="t " style="top:594.15px;font-size:14px;line-height:18px;color:#1b1d1f;letter-spacing:0.677px;left:50.20px;">Informes</span>
<span class="t " style="top:662.15px;font-size:14px;line-height:18px;color:#1b1d1f;letter-spacing:0.545px;left:38.00px;">Documentos</span>
<span class="t " style="top:730.15px;font-size:14px;line-height:18px;color:#1b1d1f;letter-spacing:0.615px;left:43.60px;">Infografías</span>
<span class="t " style="top:798.15px;font-size:14px;line-height:18px;color:#1b1d1f;letter-spacing:0.404px;left:25.30px;">Alertas de Salud</span>
<span class="t " style="top:866.15px;font-size:14px;line-height:18px;color:#1b1d1f;letter-spacing:0.507px;left:46.20px;">Catálogos</span>
<span class="t " style="top:929.96px;font-size:16px;line-height:21px;color:#1b1d1f;letter-spacing:0.511px;left:24.60px;">Solicitar Datos</span>
<svg style="left:68px;top:88.90px" width="24" height="24" viewBox="0 0 24 24" fill="#1b1d1f" fill-rule="evenodd"><path d="M8.4 18.2c.38.5.6 1.120.6 1.800 0 1.660-1.340 3-3 3s-3-1.340-3-3 1.340-3 3-3c.440 0 .850.090 1.230.260l1.410-1.770c-.920-1.030-1.290-2.390-1.090-3.690l-2.030-.680C4.980 11.950 4.060 12.500 3 12.500c-1.660 0-3-1.340-3-3s1.340-3 3-3 3 1.340 3 3c0 .070 0 .140-.010.210l2.030.680c.640-1.210 1.820-2.090 3.220-2.320V5.910C9.960 5.570 9 4.400 9 3c0-1.660 1.340-3 3-3s3 1.340 3 3c0 1.400-.960 2.570-2.250 2.910v2.160c1.400.230 2.580 1.110 3.220 2.320l2.030-.680C18 9.640 18 9.570 18 9.500c0-1.660 1.340-3 3-3s3 1.340 3 3-1.340 3-3 3c-1.060 0-1.980-.550-2.520-1.370l-2.030.680c.2 1.290-.160 2.650-1.090 3.690l1.410 1.770c.380-.170.790-.260 1.230-.260 1.660 0 3 1.340 3 3s-1.340 3-3 3-3-1.340-3-3c0-.680.220-1.300.600-1.800l-1.410-1.770c-1.350.750-3.010.760-4.370 0L8.400 18.200z" fill-rule="nonzero"/></svg>
<svg style="left:68px;top:156.40px" width="24" height="24" viewBox="0 0 24 24" fill="#166b82" fill-rule="evenodd"><path d="M21 9c-1.100 0-2-.9-2-2s2-4 2-4 2 2.900 2 4-.9 2-2 2z"/><path d="M17.500 7c0-.730.410-1.710.920-2.660C16.680 2.880 14.440 2 11.990 2 6.470 2 2 6.480 2 12s4.470 10 9.990 10C17.520 22 22 17.520 22 12c0-.550-.060-1.090-.140-1.620-.280.070-.560.120-.860.120-1.930 0-3.500-1.570-3.500-3.500z"/><g fill="none" stroke="#f2f4f7" stroke-width="1.25" stroke-linejoin="miter"><path d="M16.100 7.700 14.300 9.500l1.800 1.800"/><path d="M7.900 7.700 9.700 9.500 7.900 11.300"/><path d="M7.700 17c.7-1.700 2.400-2.800 4.300-2.800s3.600 1.100 4.300 2.800" stroke-width="1.5"/><path d="M4.500 12 9 14.600" stroke-width="1.7" stroke-linecap="round"/></g></svg>
<svg style="left:68px;top:224.00px" width="24" height="24" viewBox="0 0 24 24" fill="#1b1d1f" fill-rule="evenodd"><rect x="5" y="2.2" width="14" height="5.2" rx="1.300"/><path d="M8.050 7.400V18a3.950 3.950 0 0 0 7.900 0V7.400" fill="none" stroke="#1b1d1f" stroke-width="1.600"/><path d="M12 12.500h4.100M12 16.700h4.100" fill="none" stroke="#1b1d1f" stroke-width="1.500"/></svg>
<svg style="left:68px;top:292.35px" width="24" height="24" viewBox="0 0 24 24" fill="#1b1d1f" fill-rule="evenodd"><rect x="3.150" y="2.700" width="17.900" height="18.650" rx="1.700"/><rect x="10.750" y="6.700" width="2.500" height="10.800" fill="#f2f4f7"/><rect x="6.850" y="10.850" width="10.300" height="2.500" fill="#f2f4f7"/></svg>
<svg style="left:72px;top:362.20px" width="16" height="20.8" viewBox="0 0 16 20.8" fill="#1b1d1f" fill-rule="evenodd"><rect x="0" y="0" width="16" height="1.700" rx=".800"/><rect x="0" y="19.100" width="16" height="1.700" rx=".800"/><path d="M2.100 1.700H13.900V4.300A5.900 5.900 0 0 1 10.400 9.700V11.100A5.900 5.900 0 0 1 13.900 16.500V19.100H2.100V16.500A5.900 5.900 0 0 1 5.600 11.100V9.700A5.900 5.900 0 0 1 2.100 4.300Z"/></svg>
<svg style="left:68px;top:428.20px" width="24" height="24" viewBox="0 0 24 24" fill="#1b1d1f" fill-rule="evenodd"><path d="M11 5.500H8V4h.500c.550 0 1-.450 1-1s-.450-1-1-1h-3c-.550 0-1 .450-1 1s.450 1 1 1H6v1.500H3c-.550 0-1 .450-1 1s.450 1 1 1V15c0 1.100.9 2 2 2h1v4l2 1.500V17h1c1.100 0 2-.9 2-2V7.500c.550 0 1-.450 1-1s-.450-1-1-1zM9 9H7.250c-.410 0-.750.340-.750.750s.340.750.750.750H9V12H7.250c-.410 0-.750.340-.750.750s.340.750.750.750H9V15H5V7.500h4V9z"/><path d="M19.500 10.500V10c.550 0 1-.450 1-1s-.450-1-1-1h-5c-.550 0-1 .450-1 1s.450 1 1 1v.500c0 .500-1.500 1.160-1.500 3V20c0 1.100.9 2 2 2h4c1.100 0 2-.9 2-2v-6.500c0-1.840-1.500-2.500-1.500-3zM16.500 10.500V10h1v.500c0 1.600 1.500 2 1.500 3V14h-4v-.5c0-1 1.500-1.400 1.500-3zM15 20.500v-2h4v2h-4z"/></svg>
<svg style="left:73px;top:496.80px" width="14" height="23" viewBox="0 0 14 23" fill="#1b1d1f" fill-rule="evenodd"><g fill="none" stroke="#1b1d1f" stroke-linecap="butt"><path d="M0.900 0C0.900 9.800 13.100 13.200 13.100 23M13.100 0C13.100 9.800 .9 13.200 .9 23" stroke-width="1.600"/><path d="M0.800 2.500h12.400M1.100 19.700h11.800" stroke-width="2"/><path d="M2.200 6.100h9.600M3 15.900h8" stroke-width="1.250"/></g></svg>
<svg style="left:68px;top:564.30px" width="24" height="24" viewBox="0 0 24 24" fill="#1b1d1f" fill-rule="evenodd"><path d="M4 6H2v14c0 1.100.9 2 2 2h14v-2H4V6zm16-4H8c-1.100 0-2 .9-2 2v12c0 1.100.9 2 2 2h12c1.100 0 2-.9 2-2V4c0-1.100-.9-2-2-2zm-1 9H9V9h10v2zm-4 4H9v-2h6v2zm4-8H9V5h10v2z"/></svg>
<svg style="left:68px;top:632.30px" width="24" height="24" viewBox="0 0 24 24" fill="#1b1d1f" fill-rule="evenodd"><path d="M14 2H6c-1.100 0-1.990.9-1.990 2L4 20c0 1.100.890 2 1.990 2H18c1.100 0 2-.9 2-2V8l-6-6zm2 16H8v-2h8v2zm0-4H8v-2h8v2zm-3-5V3.500L18.500 9H13z"/></svg>
<svg style="left:68px;top:700.70px" width="24" height="24" viewBox="0 0 24 24" fill="#1b1d1f" fill-rule="evenodd"><rect x="2.200" y="3.800" width="20" height="15.900" rx="1.600"/><rect x="14.900" y="15.400" width="9" height="5" fill="#f2f4f7"/><path d="M20.300 9.600V14.300H13.600V20.200" fill="none" stroke="#f2f4f7" stroke-width="4.200"/><circle cx="20.300" cy="9.600" r="4.100" fill="#f2f4f7"/><circle cx="13.600" cy="20.200" r="4.100" fill="#f2f4f7"/><path d="M20.300 9.600V14.300H13.600V20.200" fill="none" stroke="#1b1d1f" stroke-width="1.500"/><circle cx="20.300" cy="9.600" r="2.100" fill="#f2f4f7" stroke="#1b1d1f" stroke-width="1.400"/><circle cx="13.600" cy="20.200" r="2.100" fill="#f2f4f7" stroke="#1b1d1f" stroke-width="1.400"/><rect x="6.100" y="8.700" width="4.900" height="1.800" fill="#f2f4f7"/><rect x="6.100" y="13.200" width="5.900" height="1.600" fill="#f2f4f7"/></svg>
<svg style="left:68px;top:768.30px" width="24" height="24" viewBox="0 0 24 24" fill="#1b1d1f" fill-rule="evenodd"><path d="M1 21h22L12 2 1 21zm12-3h-2v-2h2v2zm0-4h-2v-4h2v4z"/></svg>
<svg style="left:68px;top:836.80px" width="24" height="24" viewBox="0 0 24 24" fill="#1b1d1f" fill-rule="evenodd"><ellipse cx="12.050" cy="6.350" rx="9.050" ry="3.750"/><path d="M3 7.500A9.050 3.750 0 0 0 21.100 7.500V10.900A9.050 3.750 0 0 1 3 10.900Z"/><path d="M3 12.300A9.050 3.750 0 0 0 21.100 12.300V17.150A9.050 3.750 0 0 1 3 17.150Z"/></svg>
<svg style="left:68px;top:904.50px" width="24" height="24" viewBox="0 0 24 24" fill="#1b1d1f" fill-rule="evenodd"><path d="M14 2H6c-1.100 0-1.990.9-1.990 2L4 20c0 1.100.890 2 1.990 2H18c1.100 0 2-.9 2-2V8l-6-6zm2 16H8v-2h8v2zm0-4H8v-2h8v2zm-3-5V3.500L18.500 9H13z"/></svg>
</body></html>
